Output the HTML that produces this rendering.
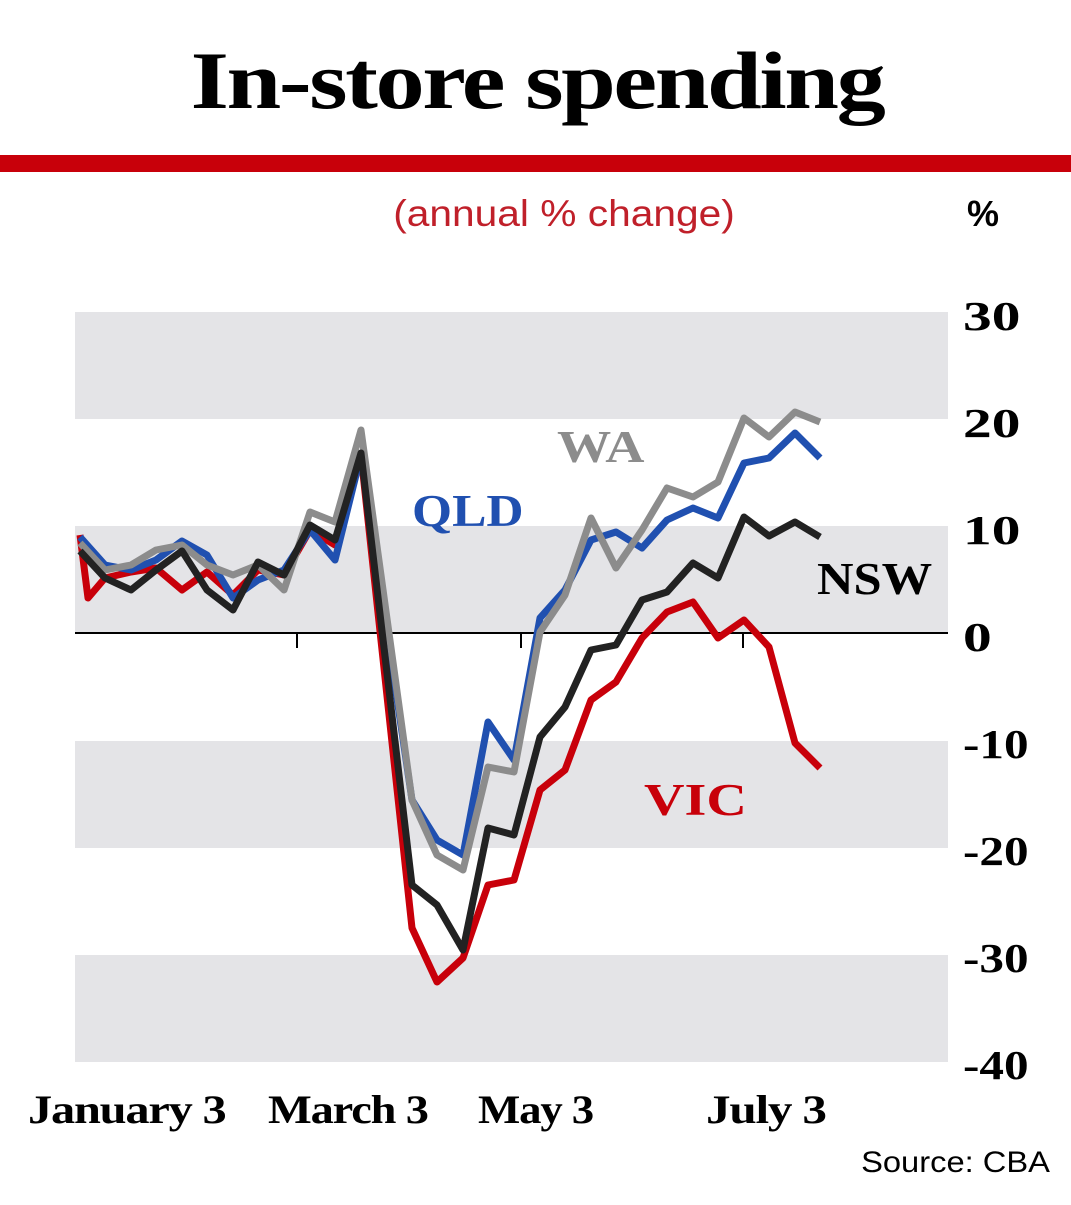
<!DOCTYPE html>
<html><head><meta charset="utf-8"><style>
body{margin:0;background:#fff;width:1071px;height:1200px;overflow:hidden}
</style></head><body>
<svg width="1071" height="1200" viewBox="0 0 1071 1200" xmlns="http://www.w3.org/2000/svg">
<text transform="translate(537,108) scale(1.2,1)" text-anchor="middle" font-family="Liberation Serif" font-weight="bold" font-size="82" letter-spacing="-2" fill="#000">In-store spending</text>
<rect x="0" y="155" width="1071" height="17" fill="#c8000a"/>
<text transform="translate(564,226) scale(1.1,1)" text-anchor="middle" font-family="Liberation Sans" font-size="37" fill="#c0202a">(annual % change)</text>
<text x="983" y="226" text-anchor="middle" font-family="Liberation Sans" font-weight="bold" font-size="36" fill="#000">%</text>
<g fill="#e4e4e7">
<rect x="75" y="312" width="873" height="107"/>
<rect x="75" y="526" width="873" height="107"/>
<rect x="75" y="741" width="873" height="107"/>
<rect x="75" y="955" width="873" height="107"/>
</g>
<line x1="75" y1="633" x2="948" y2="633" stroke="#000" stroke-width="2"/>
<g stroke="#000" stroke-width="2"><line x1="297" y1="633" x2="297" y2="648"/><line x1="521" y1="633" x2="521" y2="648"/><line x1="743" y1="633" x2="743" y2="648"/></g>
<g font-family="Liberation Serif" font-weight="bold" font-size="41" fill="#000">
<text transform="translate(963,330) scale(1.4,1)">30</text>
<text transform="translate(963,437) scale(1.4,1)">20</text>
<text transform="translate(963,544) scale(1.4,1)">10</text>
<text transform="translate(963,651) scale(1.4,1)">0</text>
<text transform="translate(963,758) scale(1.2,1)">-10</text>
<text transform="translate(963,865) scale(1.2,1)">-20</text>
<text transform="translate(963,972) scale(1.2,1)">-30</text>
<text transform="translate(963,1079) scale(1.2,1)">-40</text>
</g>
<g font-family="Liberation Serif" font-weight="bold" font-size="40" fill="#000" letter-spacing="-1">
<text transform="translate(28,1123) scale(1.21,1)">January 3</text>
<text transform="translate(268,1123) scale(1.16,1)">March 3</text>
<text transform="translate(478,1123) scale(1.12,1)">May 3</text>
<text transform="translate(706,1123) scale(1.23,1)">July 3</text>
</g>
<text transform="translate(1050,1172) scale(1.09,1)" text-anchor="end" font-family="Liberation Sans" font-size="30" fill="#000">Source: CBA</text>
<g fill="none" stroke-width="7" stroke-linejoin="round">
<polyline stroke="#c8000a" points="80,535 88,598 105,578 131,572 156,568 182,590 207,572 233,595 258,570 284,575 310,530 335,545 361,455 412,928 437,982 463,958 488,885 514,880 540,790 565,770 591,700 616,682 642,638 667,612 693,602 718,638 744,620 769,647 795,743 820,768"/>
<polyline stroke="#2050b0" points="80,537 105,565 131,570 156,560 182,541 207,555 233,598 258,580 284,570 310,530 335,560 361,455 412,800 437,840 463,855 488,722 514,760 540,618 565,590 591,540 616,532 642,548 667,520 693,508 718,518 744,463 769,458 795,433 820,458"/>
<polyline stroke="#8c8c8c" points="80,543 105,570 131,565 156,550 182,545 207,565 233,575 258,565 284,590 310,512 335,522 361,430 412,800 437,855 463,870 488,767 514,772 540,632 565,595 591,518 616,568 642,530 667,488 693,497 718,482 744,418 769,437 795,412 820,422"/>
<polyline stroke="#222" points="80,551 105,578 131,590 156,570 182,551 207,590 233,610 258,562 284,575 310,525 335,540 361,453 412,885 437,905 463,950 488,828 514,835 540,737 565,707 591,650 616,645 642,600 667,592 693,563 718,578 744,517 769,536 795,522 820,537"/>
</g>
<g font-family="Liberation Serif" font-weight="bold" font-size="46">
<text transform="translate(557,462) scale(1.18,1)" fill="#8c8c8c">WA</text>
<text transform="translate(412,526) scale(1.12,1)" fill="#2050b0">QLD</text>
<text transform="translate(817,594) scale(1.1,1)" fill="#000">NSW</text>
<text transform="translate(644,815) scale(1.22,1)" fill="#c8000a">VIC</text>
</g>
</svg>
</body></html>
